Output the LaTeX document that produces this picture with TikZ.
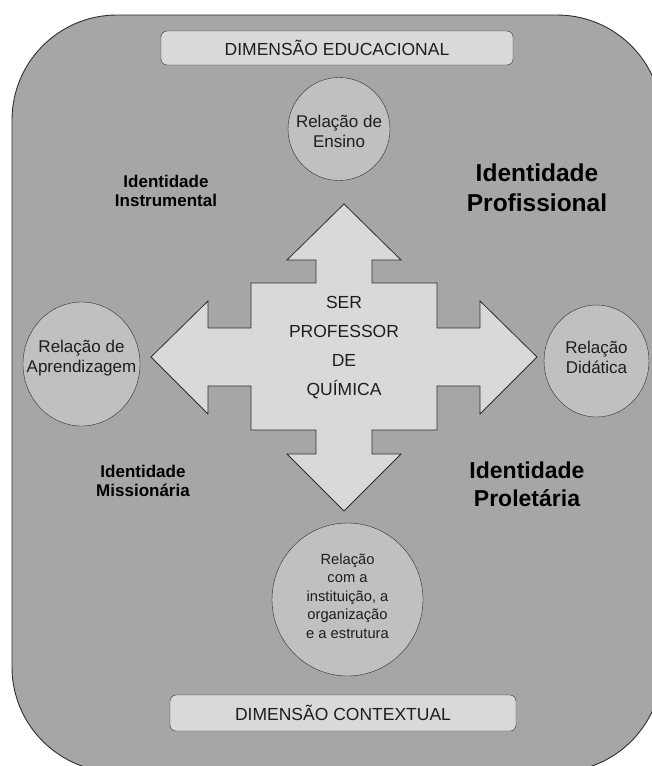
\documentclass[tikz,border=0pt]{standalone}
\usepackage{fontspec}
\setmainfont{Liberation Sans}
\usetikzlibrary{shapes.geometric}
\definecolor{fundo}{HTML}{A6A6A6}
\definecolor{claro}{HTML}{D9D9D9}
\definecolor{medio}{HTML}{C0C0C0}
\definecolor{traco}{HTML}{2E2E2E}
\definecolor{letra}{HTML}{1E1E1E}

\begin{document}
\begin{tikzpicture}[x=1pt,y=-1pt,
    faixa/.style={draw=traco,fill=claro,rounded corners=6pt,inner sep=0pt,
      font=\fontsize{17.5}{20}\selectfont,text=letra},
    bola/.style={draw=traco,fill=medio,ellipse,inner sep=0pt},
    rel/.style={align=center,font=\fontsize{17}{20}\selectfont,text=letra},
    ident/.style={align=center,font=\bfseries\fontsize{17}{19}\selectfont},
    identg/.style={align=center,font=\bfseries\fontsize{24.5}{30}\selectfont}]

		\clip (0,0) rectangle (652,766);
		\draw[draw=traco,fill=fundo,line width=0.9pt,rounded corners=105pt] (12,15) rectangle (662,772);

		% dimensoes
		\node[faixa,minimum width=352pt,minimum height=34pt] (A) at (337,48) {DIMENSÃO EDUCACIONAL};
		\node[faixa,minimum width=346pt,minimum height=36pt] (B) at (343,713) {DIMENSÃO CONTEXTUAL};

		% relacoes
		\node[bola,minimum width=102pt,minimum height=103pt] (C) at (339,129) {};
		\node[bola,minimum width=117pt,minimum height=124pt] (D) at (81.5,364) {};
		\node[bola,minimum width=105pt,minimum height=112pt] (E) at (596.5,361) {};
		\node[bola,minimum width=151pt,minimum height=153pt] (F) at (347.5,599.5) {};
		\node[rel] (Ct) at (339,131) {Relação de\\Ensino};
		\node[rel] (Dt) at (81.5,358) {Relação de\\Aprendizagem};
		\node[rel] (Et) at (596.5,357.5) {Relação\\Didática};
		\node[rel,font=\fontsize{14.7}{18.5}\selectfont] (Ft) at (347.5,596) {Relação\\com a\\instituição, a\\organização\\e a estrutura};

		% seta em cruz
		\draw[draw=traco,fill=claro,line width=0.8pt] (344,204) -- (401,260) -- (372,260) -- (372,283)
		  -- (437,283) -- (437,328) -- (480,328) -- (480,301) -- (537,357) -- (480,414) -- (480,386)
		  -- (437,386) -- (437,430) -- (372,430) -- (372,454) -- (401,454) -- (344,511) -- (287,454)
		  -- (316,454) -- (316,430) -- (251,430) -- (251,386) -- (208,386) -- (208,414) -- (151,357)
		  -- (208,301) -- (208,328) -- (251,328) -- (251,283) -- (316,283) -- (316,260) -- (287,260) -- cycle;
		\node[rel,font=\fontsize{17.5}{29}\selectfont] (G) at (344,348) {SER\\PROFESSOR\\DE\\QUÍMICA};

		% identidades
		\node[ident] (H) at (166,190.5) {Identidade\\Instrumental};
		\node[ident] (I) at (143,480.5) {Identidade\\Missionária};
		\node[identg] (J) at (537,188) {Identidade\\Profissional};
		\node[identg,font=\bfseries\fontsize{23}{28}\selectfont] (K) at (527,484) {Identidade\\Proletária};

\end{tikzpicture}
\end{document}
